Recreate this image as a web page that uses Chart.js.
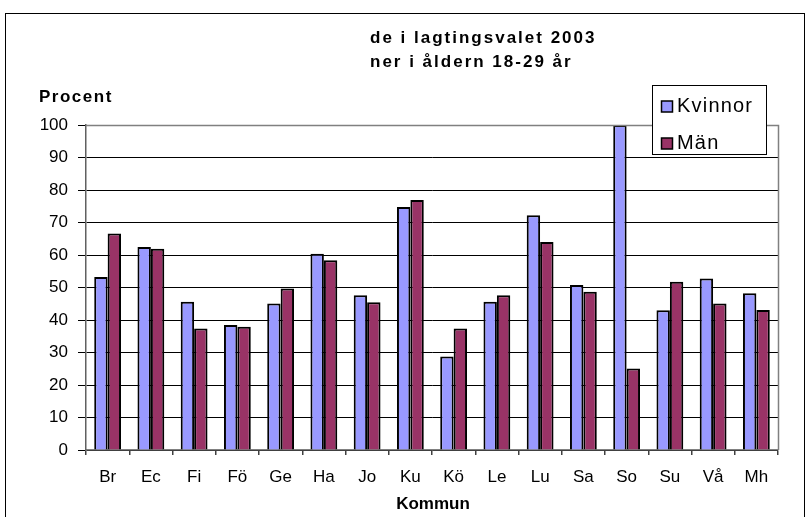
<!DOCTYPE html>
<html>
<head>
<meta charset="utf-8">
<script src="https://cdn.jsdelivr.net/npm/chart.js@4.4.1/dist/chart.umd.min.js"></script>
<style>
  html, body { margin: 0; padding: 0; background: #fff; }
  #wrap { width: 810px; height: 517px; position: relative; }
</style>
</head>
<body>
<div id="wrap"><canvas id="chart" width="810" height="517"></canvas></div>
<script>
// data
const kommuner = ['Br', 'Ec', 'Fi', 'Fö', 'Ge', 'Ha', 'Jo', 'Ku', 'Kö', 'Le', 'Lu', 'Sa', 'So', 'Su', 'Vå', 'Mh'];
const kvinnor = [53.2, 62.5, 45.6, 38.5, 45.1, 60.4, 47.6, 74.8, 28.8, 45.6, 72.2, 50.8, 100, 43.0, 52.8, 48.2];
const man = [66.6, 61.9, 37.4, 37.9, 49.7, 58.4, 45.5, 76.9, 37.4, 47.6, 64.0, 48.7, 25.1, 51.8, 45.1, 43.1];
const yTicks = [0, 10, 20, 30, 40, 50, 60, 70, 80, 90, 100];

const titleLines = ['de i lagtingsvalet 2003', 'ner i åldern 18-29 år'];

const FONT = '"Liberation Sans", Arial, sans-serif';
const colK = '#9999FF';
const colM = '#993366';

// frame, titles, legend and axis names drawn by hand
const decorations = {
    id: 'decorations',
    beforeDraw(chart) {
        const ctx = chart.ctx;
        ctx.save();
        ctx.fillStyle = '#fff';
        ctx.fillRect(0, 0, chart.width, chart.height);
        ctx.strokeStyle = '#000';
        ctx.lineWidth = 1;
        ctx.strokeRect(5.5, 13.5, 799, 520);
        ctx.restore();
    },
    afterDraw(chart) {
        const ctx = chart.ctx;
        const a = chart.chartArea;
        ctx.save();
        // plot area border top/right
        ctx.strokeStyle = '#808080';
        ctx.lineWidth = 1.5;
        ctx.beginPath();
        ctx.moveTo(a.left, a.top + 0.5);
        ctx.lineTo(a.right + 0.5, a.top + 0.5);
        ctx.lineTo(a.right + 0.5, a.bottom);
        ctx.stroke();

        ctx.fillStyle = '#000';
        ctx.textBaseline = 'alphabetic';
        ctx.textAlign = 'left';
        ctx.font = 'bold 17px ' + FONT;
        ctx.letterSpacing = '2px';
        ctx.fillText(titleLines[0], 370, 43);
        ctx.fillText(titleLines[1], 370, 67);
        ctx.letterSpacing = '1.5px';
        ctx.fillText('Procent', 39, 102);

        ctx.textAlign = 'center';
        ctx.letterSpacing = '0px';
        ctx.fillText('Kommun', (a.left + a.right) / 2 + 1, 509);

        // legend
        const lx = 652, ly = 85, lw = 114, lh = 69;
        ctx.fillStyle = '#fff';
        ctx.fillRect(lx, ly, lw, lh);
        ctx.strokeStyle = '#000';
        ctx.lineWidth = 1;
        ctx.strokeRect(lx + 0.5, ly + 0.5, lw, lh);
        const items = [['Kvinnor', colK, 106], ['Män', colM, 143]];
        ctx.font = '20px ' + FONT;
        ctx.letterSpacing = '1.2px';
        ctx.textAlign = 'left';
        items.forEach(([txt, c, y]) => {
            ctx.fillStyle = c;
            ctx.fillRect(lx + 9, y - 5, 12, 11);
            ctx.strokeStyle = '#000';
            ctx.lineWidth = 1.5;
            ctx.strokeRect(lx + 9.5, y - 5, 11, 11);
            ctx.fillStyle = '#000';
            ctx.textBaseline = 'middle';
            ctx.fillText(txt, lx + 25, y);
        });
        ctx.restore();
    }
};

new Chart(document.getElementById('chart'), {
    type: 'bar',
    data: {
        labels: kommuner,
        datasets: [
            { label: 'Kvinnor', data: kvinnor, backgroundColor: colK, borderColor: '#000', borderWidth: 2 },
            { label: 'Män', data: man, backgroundColor: colM, borderColor: '#000', borderWidth: 2 }
        ]
    },
    options: {
        responsive: false,
        animation: false,
        datasets: { bar: { categoryPercentage: 0.62, barPercentage: 1.0 } },
        layout: { padding: { top: 125, right: 32, left: 0, bottom: 0 } },
        plugins: {
            legend: { display: false },
            title: { display: false },
            tooltip: { enabled: false }
        },
        scales: {
            x: {
                offset: true,
                grid: { display: true, drawOnChartArea: false, color: '#404040', lineWidth: 1.5, tickLength: 5, offset: true },
                border: { color: '#808080', width: 1.5 },
                ticks: { color: '#000', font: { family: FONT, size: 17 }, padding: 12, maxRotation: 0 },
                afterFit(scale) { scale.height = 67; }
            },
            y: {
                min: 0,
                max: 100,
                afterBuildTicks(scale) { scale.ticks = yTicks.map(v => ({ value: v })); },
                grid: { color: '#000', lineWidth: 1, tickLength: 8 },
                border: { color: '#606060', width: 1.5 },
                ticks: { color: '#000', font: { family: FONT, size: 17 }, padding: 10 },
                afterFit(scale) { scale.width = 86; }
            }
        }
    },
    plugins: [decorations]
});
</script>
</body>
</html>
